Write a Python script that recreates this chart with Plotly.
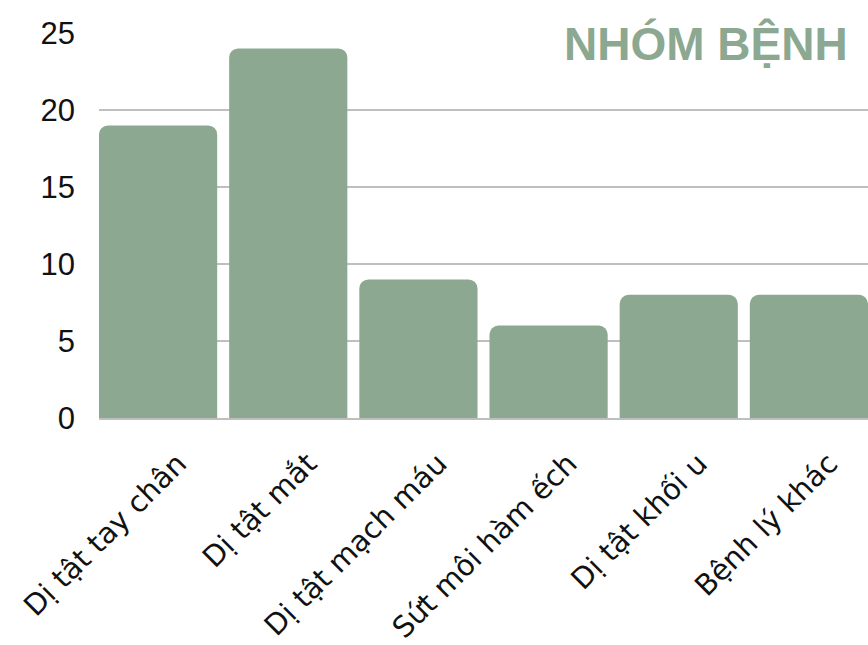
import plotly.graph_objects as go

categories = ["Dị tật tay chân", "Dị tật mắt", "Dị tật mạch máu", "Sứt môi hàm ếch", "Dị tật khối u", "Bệnh lý khác"]
values = [19, 24, 9, 6, 8, 8]
y_ticks = [0, 5, 10, 15, 20, 25]

green = "#8ca891"

fig = go.Figure(go.Bar(
    x=categories, y=values,
    marker=dict(color=green, cornerradius=9, line=dict(width=0)),
))

fig.update_layout(
    width=868, height=645,
    margin=dict(l=99, r=0, t=33, b=223),
    paper_bgcolor="white", plot_bgcolor="white",
    bargap=0.092,
    showlegend=False,
    annotations=[dict(
        text="<b>NHÓM BỆNH</b>", xref="paper", yref="paper",
        x=0.977, y=0.972, xanchor="right", yanchor="middle",
        showarrow=False,
        font=dict(family="Liberation Sans", size=46, color=green),
    )],
)
fig.update_xaxes(
    range=[-0.454, 5.454], tickangle=-45,
    tickfont=dict(family="DejaVu Sans", size=29, color="#111"),
    ticklabelshift=20, ticklabelstandoff=15,
    showline=True, linecolor="#bfbfbf", linewidth=2,
    showgrid=False,
)
fig.update_yaxes(
    range=[0, 25], tickvals=y_ticks,
    tickfont=dict(family="Liberation Sans", size=31, color="#111"),
    showgrid=True, gridcolor="#bfbfbf", gridwidth=2,
    zeroline=False, ticklabelstandoff=23,
)
fig.write_html(
    "out.html",
    config={"displayModeBar": False},
    post_script="document.body.style.margin='0';document.body.style.overflow='hidden';",
)
